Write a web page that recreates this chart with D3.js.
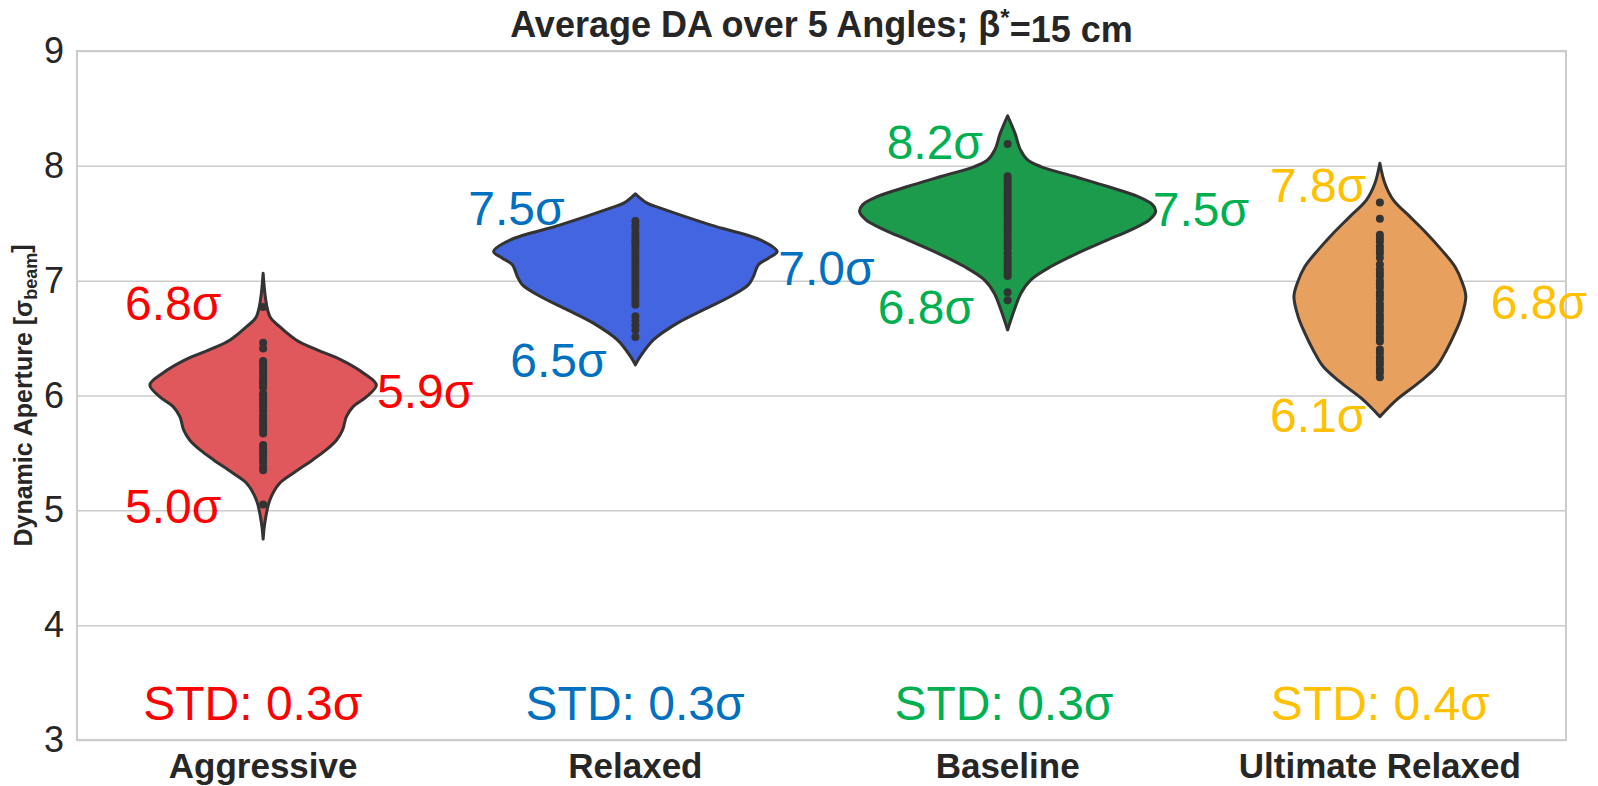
<!DOCTYPE html>
<html>
<head>
<meta charset="utf-8">
<script src="https://cdn.jsdelivr.net/npm/d3@7"></script>
<style>
  body { margin: 0; background: #fff; }
  text { font-family: "Liberation Sans", Arial, sans-serif; fill: #262626; }
</style>
</head>
<body>
<div id="chart"></div>
<script>
// categories and colours
var categories = ["Aggressive", "Relaxed", "Baseline", "Ultimate Relaxed"];
var fillColors = ["#e0585b", "#4465e0", "#1b9b4b", "#e8a05e"];
var textColors = ["#ff0000", "#0070c0", "#00b050", "#ffc000"];
var yTicks = [3, 4, 5, 6, 7, 8, 9];

// violin outlines: [DA value, relative density]
var aggressiveDensity = [[7.065,0],[6.687,0.045],[6.60,0.11],[6.484,0.22],[6.397,0.36],[6.31,0.52],[6.194,0.67],[6.092,0.755],[5.99,0.69],[5.903,0.60],[5.816,0.555],[5.70,0.53],[5.613,0.49],[5.526,0.42],[5.439,0.33],[5.323,0.20],[5.236,0.11],[5.09,0.045],[4.888,0.011],[4.75,0]];
var relaxedDensity = [[7.756,0],[7.675,0.078],[7.632,0.167],[7.486,0.50],[7.355,0.833],[7.254,0.945],[7.196,0.887],[7.138,0.82],[7.036,0.787],[6.963,0.753],[6.862,0.633],[6.746,0.453],[6.63,0.28],[6.484,0.12],[6.34,0.033],[6.267,0]];
var baselineDensity = [[8.436,0],[8.285,0.049],[8.14,0.085],[8.052,0.133],[7.994,0.22],[7.907,0.445],[7.82,0.667],[7.733,0.867],[7.66,0.967],[7.602,0.987],[7.53,0.945],[7.443,0.822],[7.355,0.667],[7.24,0.467],[7.123,0.289],[7.007,0.155],[6.891,0.089],[6.746,0.045],[6.571,0]];
var ultimateDensity = [[8.023,0],[7.849,0.033],[7.704,0.089],[7.558,0.20],[7.413,0.311],[7.268,0.411],[7.123,0.50],[6.978,0.551],[6.862,0.573],[6.687,0.545],[6.543,0.50],[6.397,0.445],[6.252,0.378],[6.107,0.255],[5.962,0.111],[5.816,0]];

// individual DA values (the dots)
var aggressivePoints = [6.77,6.46,6.41,6.30,6.28,6.25,6.22,6.20,6.17,6.14,6.12,6.10,6.07,6.02,6.00,5.97,5.95,5.92,5.90,5.87,5.83,5.80,5.78,5.75,5.72,5.70,5.67,5.57,5.54,5.51,5.48,5.45,5.42,5.38,5.35,5.05];
var relaxedPoints = [7.52,7.48,7.45,7.41,7.38,7.35,7.33,7.30,7.27,7.24,7.21,7.18,7.15,7.12,7.09,7.06,7.03,7.00,6.97,6.94,6.91,6.88,6.85,6.82,6.79,6.69,6.65,6.61,6.57,6.51];
var baselinePoints = [8.19,7.91,7.88,7.85,7.82,7.79,7.76,7.73,7.70,7.67,7.64,7.61,7.58,7.55,7.52,7.49,7.46,7.43,7.40,7.37,7.34,7.31,7.28,7.24,7.21,7.18,7.15,7.12,7.09,7.06,7.04,6.90,6.83];
var ultimatePoints = [7.68,7.54,7.40,7.37,7.34,7.30,7.27,7.24,7.20,7.14,7.10,7.07,7.04,7.00,6.97,6.94,6.90,6.87,6.84,6.80,6.77,6.74,6.70,6.67,6.64,6.60,6.57,6.54,6.50,6.47,6.40,6.37,6.33,6.30,6.27,6.23,6.20,6.16];

// annotation texts and where they sit (DA value, category offset)
var maxLabels = ["6.8σ", "7.5σ", "8.2σ", "7.8σ"];
var maxLabelY = [6.807, 7.628, 8.203, 7.835];
var maxLabelDx = [-0.371, -0.449, -0.325, -0.295];
var minLabels = ["5.0σ", "6.5σ", "6.8σ", "6.1σ"];
var minLabelY = [5.038, 6.31, 6.766, 5.83];
var minLabelDx = [-0.371, -0.336, -0.349, -0.295];
var midLabels = ["5.9σ", "7.0σ", "7.5σ", "6.8σ"];
var midLabelY = [6.04, 7.11, 7.625, 6.815];
var midLabelDx = [0.306, 0.384, 0.390, 0.298];
var stdValues = ["0.3", "0.3", "0.3", "0.4"];
var stdLabelY = 3.32;
var stdLabelDx = [-0.322, -0.295, -0.304, -0.293];

var densities = [aggressiveDensity, relaxedDensity, baselineDensity, ultimateDensity];
var points = [aggressivePoints, relaxedPoints, baselinePoints, ultimatePoints];

var margin = {top: 51, right: 32, bottom: 46, left: 77},
    width = 1598 - margin.left - margin.right,
    height = 786 - margin.top - margin.bottom;

var svg = d3.select("#chart").append("svg")
    .attr("width", 1598)
    .attr("height", 786)
    .append("g")
    .attr("transform", "translate(" + margin.left + "," + margin.top + ")");

var x = d3.scaleBand().domain(categories).range([0, width]).padding(0);
var y = d3.scaleLinear().domain([3, 9]).range([height, 0]);
// one category unit in pixels, used for label offsets
var xOff = d3.scaleLinear().domain([0, 1]).range([0, x.bandwidth()]);
// relative density to half width
var w = d3.scaleLinear().domain([0, 1]).range([0, 150]);

function cx(i) { return x(categories[i]) + x.bandwidth() / 2; }

// grid
var yAxis = d3.axisLeft(y).tickValues(yTicks).tickSize(-width).tickPadding(13).tickFormat(d3.format("d"));
var gy = svg.append("g").call(yAxis);
gy.select(".domain").remove();
gy.selectAll(".tick line").attr("stroke", "#cccccc").attr("stroke-width", 1.5);
gy.selectAll(".tick text").style("font-size", "36px").attr("fill", "#262626");

var xAxis = d3.axisBottom(x).tickSize(0).tickPadding(13);
var gx = svg.append("g").attr("transform", "translate(0," + height + ")").call(xAxis);
gx.select(".domain").remove();
gx.selectAll(".tick text").style("font-size", "35px").style("font-weight", "bold").attr("fill", "#262626");

// frame
svg.append("rect")
    .attr("width", width).attr("height", height)
    .attr("fill", "none").attr("stroke", "#cccccc").attr("stroke-width", 2);

// violins
densities.forEach(function(dens, i) {
    var c = cx(i);
    var area = d3.area()
        .y(function(d) { return y(d[0]); })
        .x0(function(d) { return c - w(d[1]); })
        .x1(function(d) { return c + w(d[1]); })
        .curve(d3.curveCatmullRom.alpha(0.5));
    svg.append("path")
        .datum(dens)
        .attr("d", area)
        .attr("fill", fillColors[i])
        .attr("stroke", "#333333")
        .attr("stroke-width", 3)
        .attr("stroke-linejoin", "round");

    svg.append("g").selectAll("circle")
        .data(points[i])
        .enter().append("circle")
        .attr("cx", c)
        .attr("cy", function(d) { return y(d); })
        .attr("r", 4)
        .attr("fill", "#333333");
});

// annotations
function addLabels(texts, ys, dxs) {
    texts.forEach(function(t, i) {
        svg.append("text")
            .attr("x", cx(i) + xOff(dxs[i]))
            .attr("y", y(ys[i]))
            .attr("dy", "0.35em")
            .style("font-size", "48px")
            .style("fill", textColors[i])
            .text(t);
    });
}
addLabels(maxLabels, maxLabelY, maxLabelDx);
addLabels(minLabels, minLabelY, minLabelDx);
addLabels(midLabels, midLabelY, midLabelDx);
addLabels(stdValues.map(function(v) { return "STD: " + v + "σ"; }),
    stdValues.map(function() { return stdLabelY; }), stdLabelDx);

// title
var title = svg.append("text")
    .attr("x", width / 2)
    .attr("y", -14)
    .attr("text-anchor", "middle")
    .style("font-size", "36px")
    .style("font-weight", "bold");
title.append("tspan").text("Average DA over 5 Angles; β");
title.append("tspan").attr("dy", "-0.45em").style("font-size", "24px").text("*");
title.append("tspan").attr("dy", "0.45em").text("=15 cm");

// y label
var ylab = svg.append("text")
    .attr("transform", "translate(" + (32 - margin.left) + "," + (height / 2) + ") rotate(-90)")
    .attr("text-anchor", "middle")
    .style("font-size", "25px")
    .style("font-weight", "bold");
ylab.append("tspan").text("Dynamic Aperture [σ");
ylab.append("tspan").attr("dy", "0.3em").style("font-size", "18px").text("beam");
ylab.append("tspan").attr("dy", "-0.3em").text("]");
</script>
</body>
</html>
